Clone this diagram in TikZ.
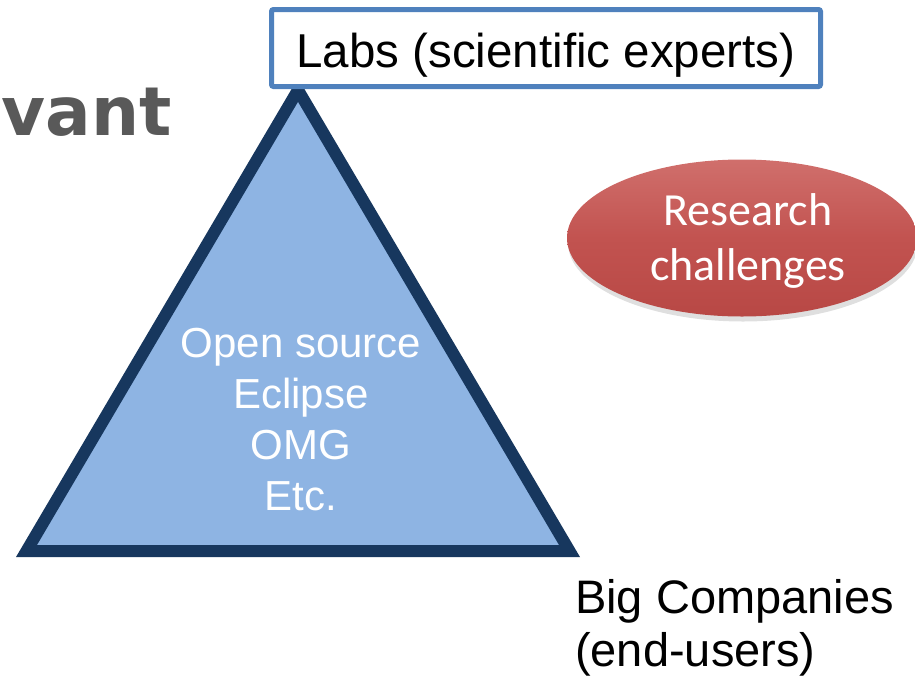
\documentclass[tikz,border=0pt]{standalone}
\usepackage{fontspec}
\setmainfont{Liberation Sans}
\newfontfamily\calibrifont{Carlito}
\newfontfamily\vantfont{DejaVu Sans}
\usetikzlibrary{shapes.geometric,shadows}
\definecolor{trifill}{HTML}{8EB4E3}
\definecolor{triline}{HTML}{17375E}
\definecolor{boxline}{HTML}{4F81BD}
\definecolor{titlegray}{HTML}{595959}
\definecolor{redtop}{HTML}{D06F6C}
\definecolor{redmid}{HTML}{C25350}
\definecolor{redbot}{HTML}{B84845}
\tikzset{
  trishape/.style={draw=triline, fill=trifill, line width=12pt, line join=miter},
  labsbox/.style={draw=boxline, fill=white, line width=5pt, rounded corners=2pt,
    inner xsep=0pt, inner ysep=0pt, font=\fontsize{47.5}{54}\selectfont},
  redoval/.style={ellipse, inner sep=0pt, top color=redtop, bottom color=redbot,
    middle color=redmid, draw=none,
    drop shadow={opacity=0.25, shadow xshift=1pt, shadow yshift=-5pt}},
  plaintext/.style={inner sep=0pt, align=center},
}
\begin{document}
\begin{tikzpicture}[x=1pt,y=-1pt]
\useasboundingbox (0,0) rectangle (915,678);
% cut-off title
\node[plaintext, anchor=base east, text=titlegray,
  font=\vantfont\bfseries\fontsize{67.6}{80}\selectfont] (vant) at (172,135) {vant};
% triangle
\coordinate (apex) at (298,90);
\coordinate (bl) at (26.5,551);
\coordinate (br) at (569.5,551);
\draw[trishape] (apex) -- (bl) -- (br) -- cycle;
% labs box
\node[labsbox, minimum width=549pt, text height=57.5pt, text depth=19.5pt]
  (labs) at (546,48) {Labs (scientific experts)};
% triangle text (base anchor = last line baseline)
\node[plaintext, anchor=base, text=white,
  font=\fontsize{42}{51}\selectfont] (tritext) at (301,510)
  {Open source\\Eclipse\\OMG\\Etc.};
% research ellipse
\node[redoval, minimum width=350pt, minimum height=157pt] (rc) at (742,238) {};
\node[plaintext, anchor=base, text=white,
  font=\calibrifont\fontsize{46}{55}\selectfont] (rctext) at (748,280)
  {Research\\challenges};
% big companies
\node[plaintext, anchor=base west, align=left,
  font=\fontsize{47}{53}\selectfont] (big) at (575,666)
  {Big Companies\\(end-users)};
\end{tikzpicture}
\end{document}
